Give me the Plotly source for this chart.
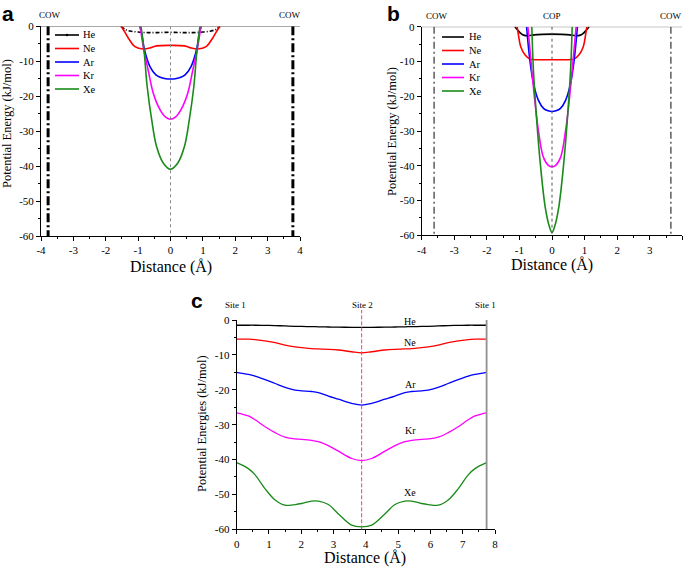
import plotly.graph_objects as go

W, H = 685, 570

# ---------------- Data ----------------
# Panel a (COW)
a_he_x = [-1.53, -1.40, -1.25, -1.0, -0.7, -0.4, 0.0, 0.4, 0.7, 1.0, 1.25, 1.40, 1.53]
a_he_y = [0.0, -0.9, -1.35, -1.65, -1.8, -1.8, -1.72, -1.8, -1.8, -1.65, -1.35, -0.9, 0.0]
a_ne_x = [-1.53, -1.46, -1.30, -1.10, -0.84, -0.60, -0.43, 0.0, 0.43, 0.60, 0.84, 1.10, 1.30, 1.46, 1.53]
a_ne_y = [0.0, -0.9, -3.4, -5.8, -6.5, -6.1, -5.6, -5.45, -5.6, -6.1, -6.5, -5.8, -3.4, -0.9, 0.0]
a_ar_x = [-0.95, -0.89, -0.81, -0.63, -0.45, -0.32, -0.15, 0.0, 0.15, 0.32, 0.45, 0.63, 0.81, 0.89, 0.95]
a_ar_y = [0.0, -2.0, -6.5, -11.6, -13.9, -14.6, -15.0, -15.1, -15.0, -14.6, -13.9, -11.6, -6.5, -2.0, 0.0]
a_kr_x = [-0.94, -0.84, -0.69, -0.53, -0.32, -0.15, 0.0, 0.15, 0.32, 0.53, 0.69, 0.84, 0.94]
a_kr_y = [0.0, -5.8, -12.5, -19.2, -23.9, -26.0, -26.6, -26.0, -23.9, -19.2, -12.5, -5.8, 0.0]
a_xe_x = [-0.91, -0.81, -0.72, -0.58, -0.43, -0.22, 0.0, 0.22, 0.43, 0.58, 0.72, 0.81, 0.91]
a_xe_y = [0.0, -7.7, -17.3, -26.8, -34.4, -39.2, -40.9, -39.2, -34.4, -26.8, -17.3, -7.7, 0.0]

# Panel b (COP)
b_he_x = [-1.14, -1.05, -0.95, -0.85, -0.72, -0.55, -0.30, 0.0, 0.30, 0.55, 0.72, 0.85, 0.95, 1.05, 1.14]
b_he_y = [0.0, -1.0, -2.0, -2.5, -2.6, -2.35, -2.2, -2.15, -2.2, -2.35, -2.6, -2.5, -2.0, -1.0, 0.0]
b_ne_x = [-1.07, -1.03, -0.96, -0.83, -0.68, -0.40, 0.0, 0.40, 0.68, 0.83, 0.96, 1.03, 1.07]
b_ne_y = [0.0, -2.4, -5.75, -8.1, -9.3, -9.5, -9.5, -9.5, -9.3, -8.1, -5.75, -2.4, 0.0]
b_ar_x = [-0.78, -0.68, -0.57, -0.42, -0.26, -0.12, 0.0, 0.12, 0.26, 0.42, 0.57, 0.68, 0.78]
b_ar_y = [0.0, -9.6, -16.3, -21.1, -23.5, -24.2, -24.4, -24.2, -23.5, -21.1, -16.3, -9.6, 0.0]
b_kr_x = [-0.74, -0.62, -0.52, -0.42, -0.27, -0.12, 0.0, 0.12, 0.27, 0.42, 0.52, 0.62, 0.74]
b_kr_y = [0.0, -12.5, -22.0, -29.7, -37.4, -39.8, -40.3, -39.8, -37.4, -29.7, -22.0, -12.5, 0.0]
b_xe_x = [-0.62, -0.57, -0.47, -0.37, -0.21, -0.08, 0.0, 0.08, 0.21, 0.37, 0.47, 0.57, 0.62]
b_xe_y = [0.0, -12.5, -26.8, -38.3, -51.8, -57.5, -59.2, -57.5, -51.8, -38.3, -26.8, -12.5, 0.0]

# Panel c (path Site 1 -> Site 2 -> Site 1)
c_x = [0.0, 0.36, 0.57, 0.88, 1.19, 1.50, 1.81, 2.01, 2.32, 2.53, 2.84, 3.15, 3.56, 3.87,
       4.18, 4.59, 4.90, 5.21, 5.42, 5.73, 5.93, 6.24, 6.55, 6.86, 7.17, 7.38, 7.74]
c_he = [-1.5, -1.5, -1.5, -1.55, -1.6, -1.7, -1.8, -1.85, -1.9, -1.95, -2.0, -2.05, -2.1, -2.1,
        -2.1, -2.05, -2.0, -1.95, -1.9, -1.85, -1.8, -1.7, -1.6, -1.55, -1.5, -1.5, -1.5]
c_ne = [-5.5, -5.5, -5.6, -6.0, -6.5, -7.2, -7.7, -7.9, -8.2, -8.3, -8.4, -8.6, -9.1, -9.4,
        -9.1, -8.6, -8.4, -8.3, -8.2, -7.9, -7.7, -7.2, -6.5, -6.0, -5.6, -5.5, -5.5]
c_ar = [-15.0, -15.6, -16.1, -17.1, -18.2, -19.3, -20.1, -20.3, -20.5, -20.8, -21.8, -22.7, -23.9, -24.4,
        -23.9, -22.7, -21.8, -20.8, -20.5, -20.3, -20.1, -19.3, -18.2, -17.1, -16.1, -15.6, -15.0]
c_kr = [-26.6, -27.5, -28.6, -30.6, -32.3, -33.6, -34.1, -34.2, -34.5, -34.9, -36.0, -37.6, -39.7, -40.3,
        -39.7, -37.6, -36.0, -34.9, -34.5, -34.2, -34.1, -33.6, -32.3, -30.6, -28.6, -27.5, -26.6]
c_xe = [-40.9, -42.6, -44.4, -48.4, -51.6, -53.1, -52.9, -52.6, -51.9, -51.9, -52.9, -55.6, -58.8, -59.3,
        -58.8, -55.6, -52.9, -51.9, -51.9, -52.6, -52.9, -53.1, -51.6, -48.4, -44.4, -42.6, -40.9]

gases = ["He", "Ne", "Ar", "Kr", "Xe"]
colors = ["#000000", "#ff0000", "#0000ff", "#ff00ff", "#1a8a1a"]
x_ticks_ab = [-4, -3, -2, -1, 0, 1, 2, 3, 4]
x_ticktext_ab = ["-4", "-3", "-2", "-1", "0", "1", "2", "3", "4"]
x_ticks_c = [0, 1, 2, 3, 4, 5, 6, 7, 8]
x_ticktext_c = ["0", "1", "2", "3", "4", "5", "6", "7", "8"]
y_ticks = [-60, -50, -40, -30, -20, -10, 0]
y_ticktext = ["-60", "-50", "-40", "-30", "-20", "-10", "0"]
c_label_y = [-0.3, -6.4, -18.6, -31.7, -49.4]
cow_a = [-3.78, 3.78]
cow_b = [-3.62, 3.65]
site2_x = 3.87
site1_end = 7.74

SERIF = "Liberation Serif, Times New Roman, serif"
SANS = "Liberation Sans, Arial, sans-serif"

fig = go.Figure()

a_data = [(a_he_x, a_he_y), (a_ne_x, a_ne_y), (a_ar_x, a_ar_y), (a_kr_x, a_kr_y), (a_xe_x, a_xe_y)]
b_data = [(b_he_x, b_he_y), (b_ne_x, b_ne_y), (b_ar_x, b_ar_y), (b_kr_x, b_kr_y), (b_xe_x, b_xe_y)]
c_data = [c_he, c_ne, c_ar, c_kr, c_xe]

for i, (xs, ys) in enumerate(a_data):
    dash = "4px,2px,1px,2px" if i == 0 else "solid"
    fig.add_trace(go.Scatter(x=xs, y=ys, mode="lines", name=gases[i], showlegend=False,
                             line=dict(color=colors[i], width=1.6, shape="spline", dash=dash),
                             xaxis="x", yaxis="y"))
for i, (xs, ys) in enumerate(b_data):
    fig.add_trace(go.Scatter(x=xs, y=ys, mode="lines", name=gases[i], showlegend=False,
                             line=dict(color=colors[i], width=1.6, shape="spline"),
                             xaxis="x2", yaxis="y2"))
for i, ys in enumerate(c_data):
    fig.add_trace(go.Scatter(x=c_x, y=ys, mode="lines", name=gases[i], showlegend=False,
                             line=dict(color=colors[i], width=1.3, shape="spline"),
                             xaxis="x3", yaxis="y3"))


def px(x, y):
    return x / W, 1 - y / H


def axis_common(rng, tickvals, ticktext, minor_dtick):
    return dict(range=rng, showline=True, linecolor="black", linewidth=1, showgrid=False,
                zeroline=False, ticks="outside", ticklen=4, tickcolor="black", tickwidth=1,
                tickmode="array", tickvals=tickvals, ticktext=ticktext, automargin=False,
                tickfont=dict(family=SERIF, size=11, color="black"),
                minor=dict(tickmode="linear", tick0=0, dtick=minor_dtick, ticks="outside",
                           ticklen=2, tickcolor="black", showgrid=False))


def dom_x(l, r):
    return [l / W, r / W]


def dom_y(top, bottom):
    return [1 - bottom / H, 1 - top / H]


fig.update_layout(
    width=W, height=H, margin=dict(l=0, r=0, t=0, b=0),
    paper_bgcolor="white", plot_bgcolor="white", showlegend=False,
    xaxis=dict(domain=dom_x(41, 300), anchor="y", **axis_common([-4, 4], x_ticks_ab, x_ticktext_ab, 0.5)),
    yaxis=dict(domain=dom_y(26.3, 236), anchor="x", **axis_common([-60, 0], y_ticks, y_ticktext, 5)),
    xaxis2=dict(domain=dom_x(421.7, 682.3), anchor="y2", **axis_common([-4, 4], x_ticks_ab, x_ticktext_ab, 0.5)),
    yaxis2=dict(domain=dom_y(26.7, 235.3), anchor="x2", **axis_common([-60, 0], y_ticks, y_ticktext, 5)),
    xaxis3=dict(domain=dom_x(236.7, 495), anchor="y3", **axis_common([0, 8], x_ticks_c, x_ticktext_c, 0.5)),
    yaxis3=dict(domain=dom_y(320, 529.3), anchor="x3", **axis_common([-60, 0], y_ticks, y_ticktext, 5)),
)

shapes = []
# top border lines at y = 0 for panels a and b
shapes.append(dict(type="line", xref="x", yref="y", x0=-4, x1=4, y0=0, y1=0,
                   line=dict(color="#707070", width=1)))
shapes.append(dict(type="line", xref="x2", yref="y2", x0=-4, x1=4, y0=0, y1=0,
                   line=dict(color="#707070", width=1)))
# center dotted lines
shapes.append(dict(type="line", xref="x", yref="y", x0=0, x1=0, y0=0, y1=-60,
                   line=dict(color="#888888", width=1, dash="dot")))
shapes.append(dict(type="line", xref="x2", yref="y2", x0=0, x1=0, y0=0, y1=-60,
                   line=dict(color="#555555", width=1, dash="dot")))
# COW lines
for xv in cow_a:
    shapes.append(dict(type="line", xref="x", yref="y", x0=xv, x1=xv, y0=0, y1=-60,
                       line=dict(color="black", width=3, dash="9px,3px,2px,3px")))
for xv in cow_b:
    shapes.append(dict(type="line", xref="x2", yref="y2", x0=xv, x1=xv, y0=0, y1=-60,
                       line=dict(color="#333333", width=1.2, dash="7px,3px,2px,3px")))
# panel c vertical lines
shapes.append(dict(type="line", xref="x3", yref="paper", x0=site2_x, x1=site2_x,
                   y0=1 - 529.3 / H, y1=1 - 310 / H,
                   line=dict(color="#ff3388", width=1, dash="4px,2px")))
shapes.append(dict(type="line", xref="x3", yref="y3", x0=site1_end, x1=site1_end, y0=0, y1=-60,
                   line=dict(color="#909090", width=1.8)))

annotations = []


def text(x, y, s, size, xanchor="center", yanchor="middle", family=SERIF, angle=0, color="black"):
    px_, py_ = px(x, y)
    annotations.append(dict(x=px_, y=py_, xref="paper", yref="paper", text=s, showarrow=False,
                            xanchor=xanchor, yanchor=yanchor, textangle=angle,
                            font=dict(family=family, size=size, color=color)))


# manual legends
leg_a = dict(x0=55, x1=79, tx=81, ys=[35, 48.5, 62, 75.5, 89])
leg_b = dict(x0=442, x1=464, tx=467, ys=[37, 50.5, 64, 77.5, 91])
for leg in (leg_a, leg_b):
    for i, g in enumerate(gases):
        yy = leg["ys"][i]
        x0, y0 = px(leg["x0"], yy)
        x1, _ = px(leg["x1"], yy)
        shapes.append(dict(type="line", xref="paper", yref="paper", x0=x0, x1=x1, y0=y0, y1=y0,
                           line=dict(color=colors[i], width=1.6)))
        text(leg["tx"], yy, g, 10.5, xanchor="left")
# dot on He legend sample in panel a
cx, cy = px((leg_a["x0"] + leg_a["x1"]) / 2, leg_a["ys"][0])
shapes.append(dict(type="circle", xref="paper", yref="paper",
                   x0=cx - 1.3 / W, x1=cx + 1.3 / W, y0=cy - 1.3 / H, y1=cy + 1.3 / H,
                   fillcolor="black", line=dict(color="black", width=0)))

# panel letters
text(8, 0, "<b>a</b>", 21, yanchor="top", family=SANS)
text(393, 0, "<b>b</b>", 21, yanchor="top", family=SANS)
text(197, 287, "<b>c</b>", 21, yanchor="top", family=SANS)

# top labels
text(50, 15, "COW", 9)
text(290, 15, "COW", 9)
text(437, 16, "COW", 9)
text(552, 16, "COP", 9)
text(671, 16, "COW", 9)
text(235, 305, "Site 1", 9)
text(362, 305, "Site 2", 9)
text(486, 305, "Site 1", 9)

# axis titles
text(7, 124, "Potential Energy (kJ/mol)", 12.5, angle=-90)
text(392, 131, "Potential Energy (kJ/mol)", 12.5, angle=-90)
text(202, 424, "Potential Energies (kJ/mol)", 12.5, angle=-90)
text(171, 267, "Distance (Å)", 16)
text(552, 265, "Distance (Å)", 16)
text(365, 558, "Distance (Å)", 16)

# gas labels in panel c (data coordinates)
for g, yv in zip(gases, c_label_y):
    annotations.append(dict(x=5.37, y=yv, xref="x3", yref="y3", text=g, showarrow=False,
                            font=dict(family=SERIF, size=10, color="black")))

fig.update_layout(shapes=shapes, annotations=annotations)
fig.write_html("out.html", config={"displayModeBar": False},
               post_script="document.body.style.margin='0';document.body.style.padding='0';")
